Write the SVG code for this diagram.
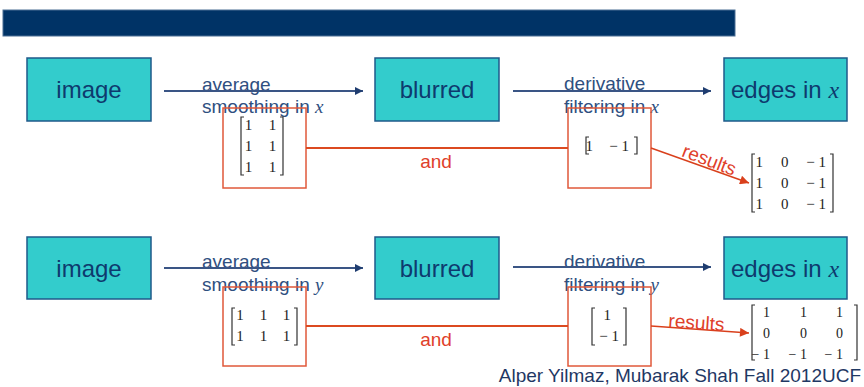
<svg xmlns="http://www.w3.org/2000/svg" width="864" height="387" viewBox="0 0 864 387">
<defs>
<marker id="ab" viewBox="0 0 10 10" refX="10" refY="5" markerWidth="10" markerHeight="8" markerUnits="userSpaceOnUse" orient="auto"><path d="M0,0 L10,5 L0,10 z" fill="#1f3d70"/></marker>
<marker id="ar" viewBox="0 0 10 10" refX="10" refY="5" markerWidth="13" markerHeight="9" markerUnits="userSpaceOnUse" orient="auto"><path d="M0,0 L10,5 L0,10 z" fill="#d9401c"/></marker>
</defs>
<style>
.node{fill:#33cccc;stroke:#1f5a8a;stroke-width:1.5}
.nt{font-family:"Liberation Sans",Arial,sans-serif;font-size:24px;fill:#0e3a6e;text-anchor:middle}
.it{font-family:"Liberation Serif","Times New Roman",serif;font-style:italic}
.lbl{font-family:"Liberation Sans",Arial,sans-serif;font-size:19px;fill:#2f4f80}
.rbox{fill:none;stroke:#e0583a;stroke-width:1.5}
.arr{stroke:#3a5585;stroke-width:2;fill:none;marker-end:url(#ab)}
.rl{stroke:#dc4a20;stroke-width:2;fill:none}
.ra{stroke:#d9401c;stroke-width:1.5;fill:none;marker-end:url(#ar)}
.red{font-family:"Liberation Sans",Arial,sans-serif;font-size:19px;fill:#e0402a}
.m{font-family:"Liberation Serif","Times New Roman",serif;font-size:15px;fill:#222}
.m14{font-family:"Liberation Serif","Times New Roman",serif;font-size:14px;fill:#222}
.br{fill:none;stroke:#333;stroke-width:1.2}
.foot{font-family:"Liberation Sans",Arial,sans-serif;font-size:19px;fill:#1f3864;text-anchor:end}
</style>
<rect x="3" y="10" width="732" height="26" fill="#003366" stroke="#4a6f94" stroke-width="1"/>

<g id="labels">
<text class="lbl" x="202" y="91">average</text>
<text class="lbl" x="202" y="113">smoothing in <tspan class="it">x</tspan></text>
<text class="lbl" x="564" y="90">derivative</text>
<text class="lbl" x="564" y="113">filtering in <tspan class="it">x</tspan></text>
<text class="lbl" x="202" y="268">average</text>
<text class="lbl" x="202" y="291">smoothing in <tspan class="it">y</tspan></text>
<text class="lbl" x="564" y="268">derivative</text>
<text class="lbl" x="564" y="291">filtering in <tspan class="it">y</tspan></text>
</g>

<g id="image1"><rect class="node" x="27" y="58" width="124" height="63"/><text class="nt" x="89" y="98">image</text></g>
<g id="blurred1"><rect class="node" x="375" y="58" width="124" height="63"/><text class="nt" x="437" y="98">blurred</text></g>
<g id="edges1"><rect class="node" x="724" y="58" width="123" height="63"/><text class="nt" x="785" y="98">edges in <tspan class="it">x</tspan></text></g>
<g id="image2"><rect class="node" x="27" y="237" width="124" height="62"/><text class="nt" x="89" y="277">image</text></g>
<g id="blurred2"><rect class="node" x="375" y="237" width="124" height="62"/><text class="nt" x="437" y="277">blurred</text></g>
<g id="edges2"><rect class="node" x="724" y="237" width="123" height="62"/><text class="nt" x="785" y="277">edges in <tspan class="it">x</tspan></text></g>

<g id="kx1">
<rect class="rbox" x="223" y="108" width="83" height="80"/>
<path class="br" d="M244,117 H241 V175 H244 M280,117 H283 V175 H280"/>
<text class="m" x="248.5" y="130" text-anchor="middle">1</text><text class="m" x="272.5" y="130" text-anchor="middle">1</text>
<text class="m" x="248.5" y="151" text-anchor="middle">1</text><text class="m" x="272.5" y="151" text-anchor="middle">1</text>
<text class="m" x="248.5" y="172" text-anchor="middle">1</text><text class="m" x="272.5" y="172" text-anchor="middle">1</text>
</g>
<g id="dx1">
<rect class="rbox" x="568" y="108" width="83" height="80"/>
<path class="br" d="M589,137 H586 V154 H589 M634,137 H637 V154 H634"/>
<text class="m" x="593" y="151" text-anchor="end">1</text><text class="m" x="629" y="151" text-anchor="end">− 1</text>
</g>
<g id="rx">
<path class="br" d="M755,154 H752 V212 H755 M830,154 H833 V212 H830"/>
<text class="m" x="763" y="167" text-anchor="end">1</text><text class="m" x="788.5" y="167" text-anchor="end">0</text><text class="m" x="826" y="167" text-anchor="end">− 1</text>
<text class="m" x="763" y="188" text-anchor="end">1</text><text class="m" x="788.5" y="188" text-anchor="end">0</text><text class="m" x="826" y="188" text-anchor="end">− 1</text>
<text class="m" x="763" y="209" text-anchor="end">1</text><text class="m" x="788.5" y="209" text-anchor="end">0</text><text class="m" x="826" y="209" text-anchor="end">− 1</text>
</g>

<g id="ky2">
<rect class="rbox" x="223" y="287" width="83" height="79"/>
<path class="br" d="M235,308 H232 V345 H235 M294,308 H297 V345 H294"/>
<text class="m" x="240" y="320" text-anchor="middle">1</text><text class="m" x="263.5" y="320" text-anchor="middle">1</text><text class="m" x="286.5" y="320" text-anchor="middle">1</text>
<text class="m" x="240" y="341" text-anchor="middle">1</text><text class="m" x="263.5" y="341" text-anchor="middle">1</text><text class="m" x="286.5" y="341" text-anchor="middle">1</text>
</g>
<g id="dy2">
<rect class="rbox" x="568" y="287" width="83" height="79"/>
<path class="br" d="M595,308 H592 V345 H595 M623,308 H626 V345 H623"/>
<text class="m" x="611" y="320" text-anchor="end">1</text>
<text class="m" x="619" y="341" text-anchor="end">− 1</text>
</g>
<g id="ry">
<path class="br" d="M755,305 H752 V360 H755 M854,305 H857 V360 H854"/>
<text class="m14" x="770" y="317" text-anchor="end">1</text><text class="m14" x="807" y="317" text-anchor="end">1</text><text class="m14" x="843" y="317" text-anchor="end">1</text>
<text class="m14" x="770" y="338" text-anchor="end">0</text><text class="m14" x="807" y="338" text-anchor="end">0</text><text class="m14" x="843" y="338" text-anchor="end">0</text>
<text class="m14" x="770" y="359" text-anchor="end">− 1</text><text class="m14" x="807" y="359" text-anchor="end">− 1</text><text class="m14" x="843" y="359" text-anchor="end">− 1</text>
</g>

<g id="connectors">
<line class="arr" x1="164" y1="91" x2="363" y2="91"/>
<line class="arr" x1="513" y1="91" x2="711" y2="91"/>
<line class="arr" x1="164" y1="268" x2="363" y2="268"/>
<line class="arr" x1="513" y1="267" x2="711" y2="267"/>
<line class="rl" x1="306" y1="148" x2="568" y2="148"/>
<line class="rl" x1="306" y1="326" x2="568" y2="326"/>
<text class="red" x="436" y="168" text-anchor="middle">and</text>
<text class="red" x="436" y="346" text-anchor="middle">and</text>
<line class="ra" x1="651" y1="148" x2="749" y2="183"/>
<text class="red" x="707" y="166" text-anchor="middle" transform="rotate(21 707 166)">results</text>
<line class="ra" x1="651" y1="326" x2="749" y2="333"/>
<text class="red" x="696" y="329" text-anchor="middle" transform="rotate(4 696 329)">results</text>
</g>

<text class="foot" x="861" y="382">Alper Yilmaz, Mubarak Shah Fall 2012UCF</text>
</svg>
